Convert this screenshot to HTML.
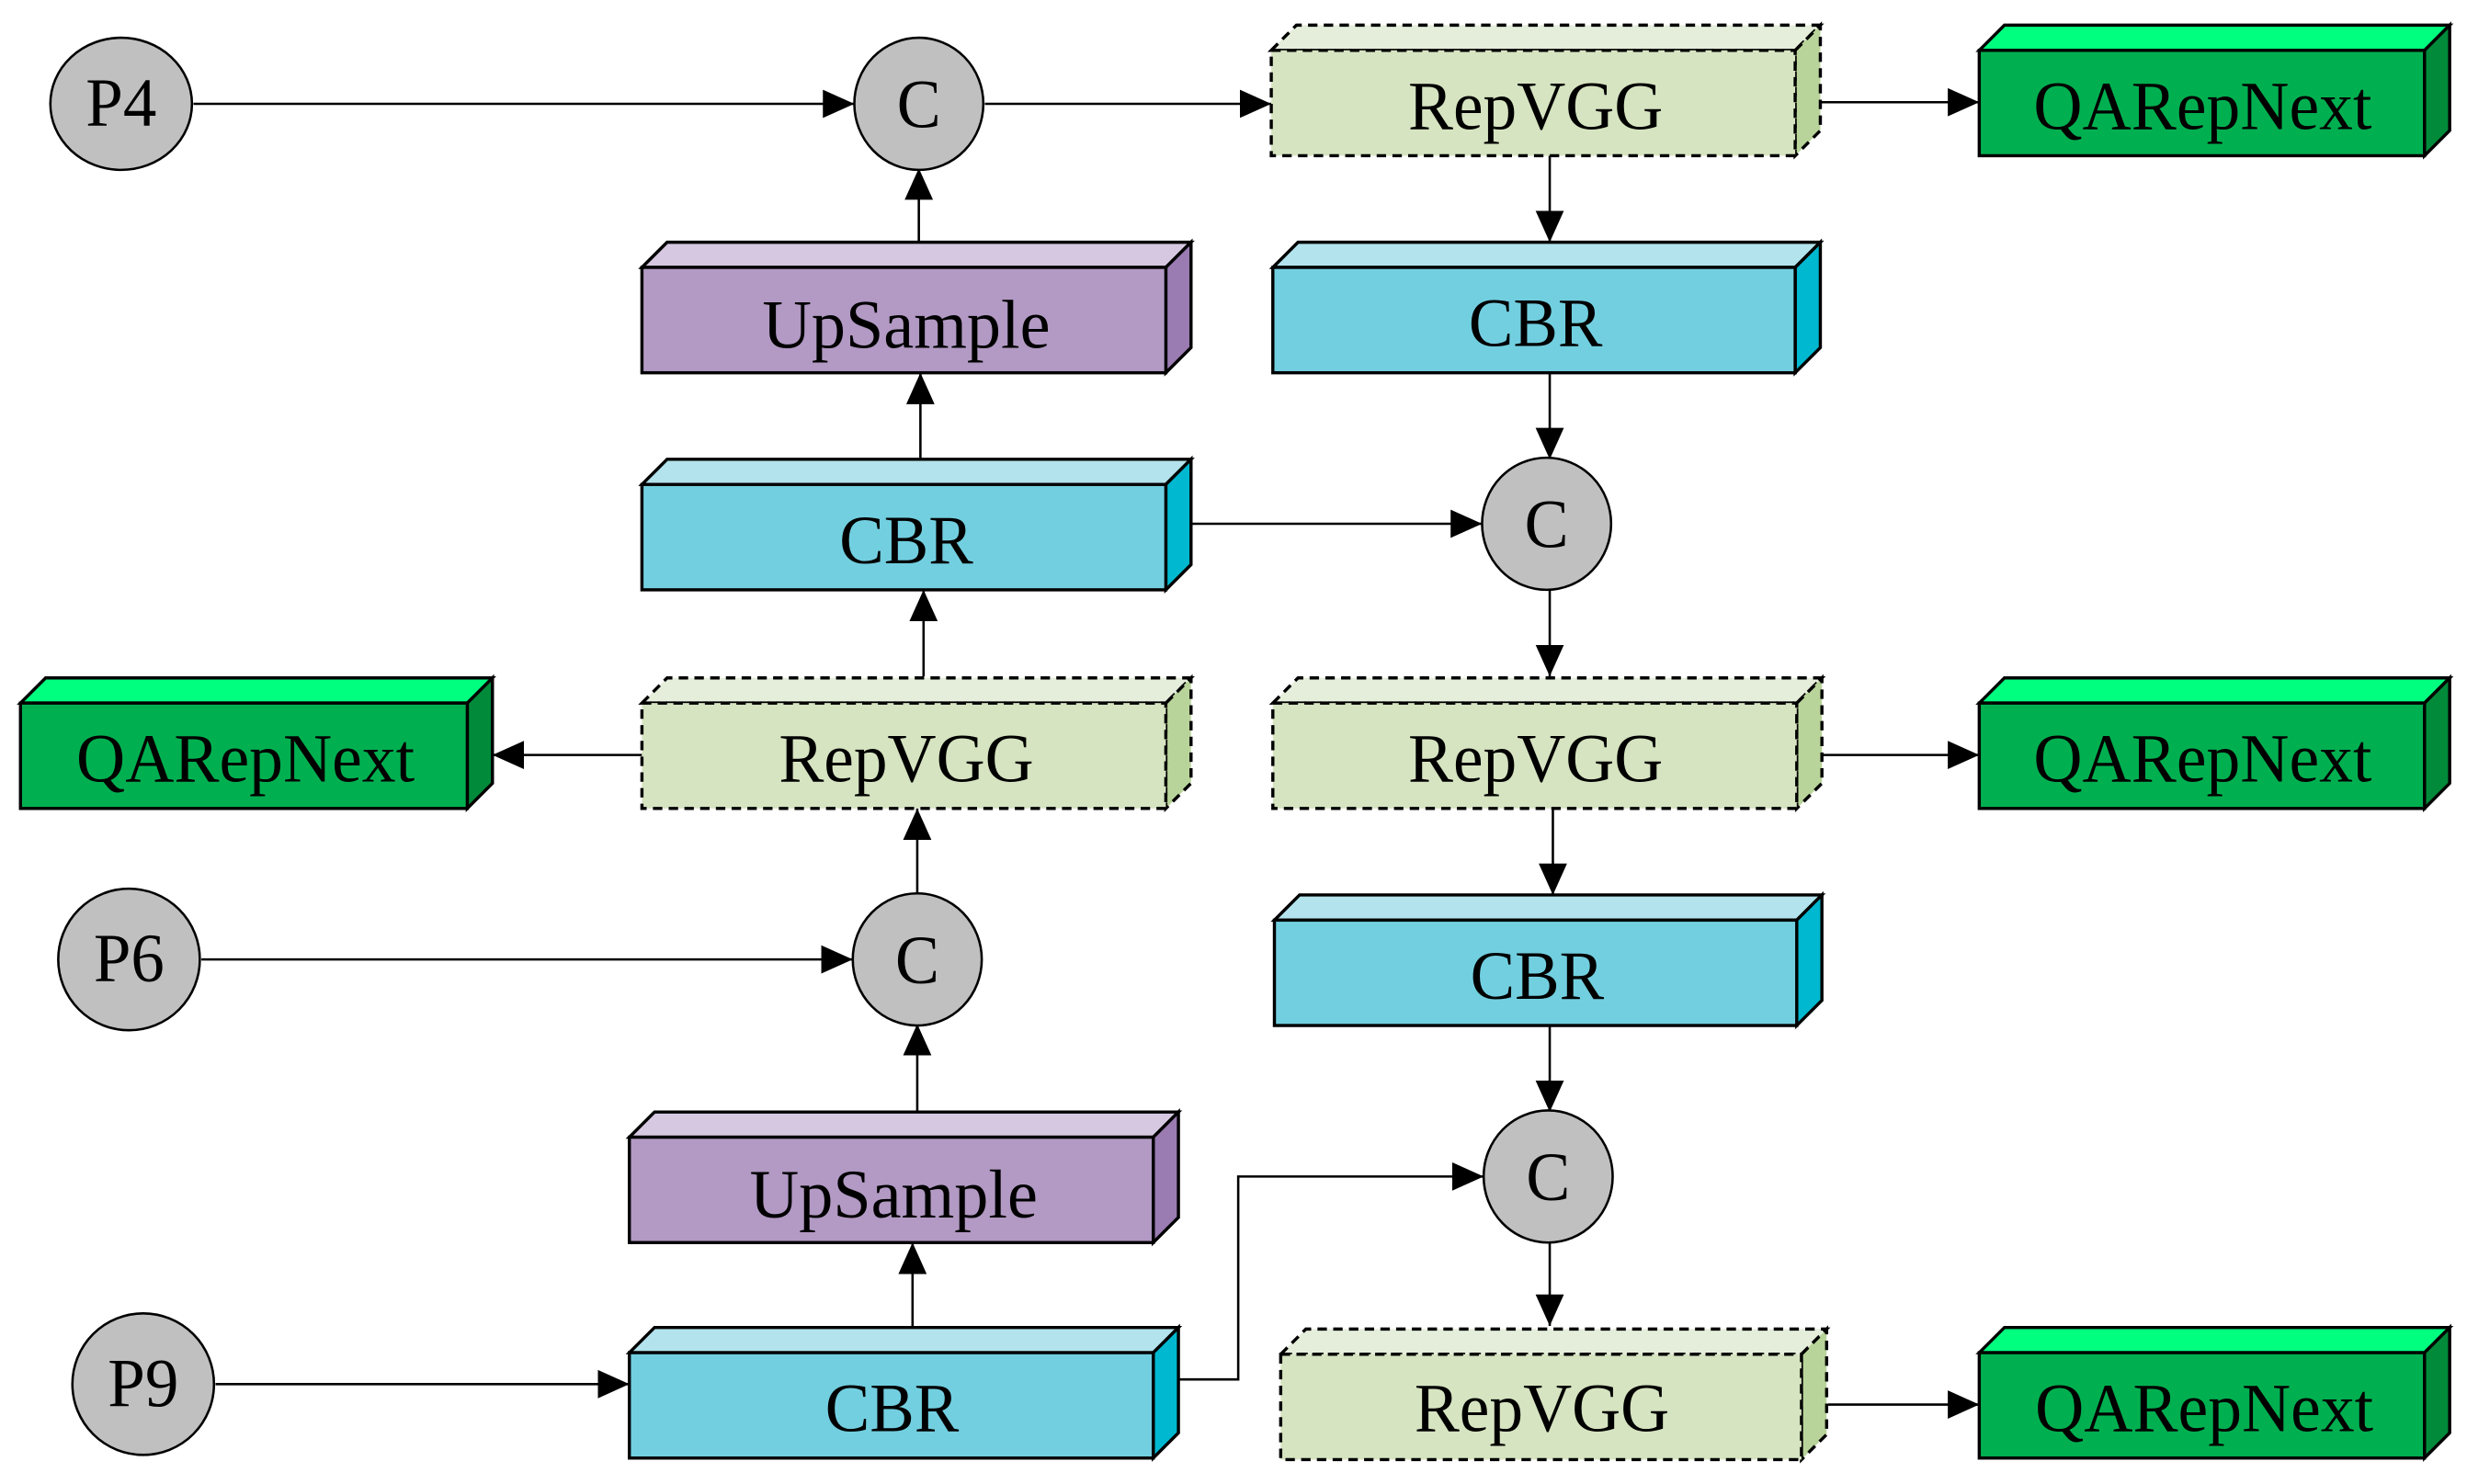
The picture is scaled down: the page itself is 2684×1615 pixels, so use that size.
<!DOCTYPE html>
<html><head><meta charset="utf-8"><style>html,body{margin:0;padding:0;background:#fff}svg{display:block}</style></head>
<body>
<svg width="2684" height="1615" viewBox="0 0 1568 943.5" xmlns="http://www.w3.org/2000/svg" font-family="Liberation Serif, serif">
<defs>
<marker id="a" markerUnits="userSpaceOnUse" markerWidth="22" markerHeight="20" refX="20" refY="10" orient="auto"><path d="M0,1 L20,10 L0,19 Z" fill="#000"/></marker>
</defs>
<g stroke="#000" stroke-width="1.5" fill="none" marker-end="url(#a)">
<line x1="123" y1="66" x2="543" y2="66"/>
<line x1="626" y1="66" x2="808" y2="66"/>
<line x1="1157" y1="65" x2="1258" y2="65"/>
<line x1="584" y1="154" x2="584" y2="107"/>
<line x1="585" y1="292" x2="585" y2="237"/>
<line x1="985" y1="99" x2="985" y2="154"/>
<line x1="985" y1="237" x2="985" y2="292"/>
<line x1="757" y1="333" x2="942" y2="333"/>
<line x1="587" y1="430" x2="587" y2="375"/>
<line x1="408" y1="480" x2="313" y2="480"/>
<line x1="985" y1="374" x2="985" y2="430"/>
<line x1="1158" y1="480" x2="1258" y2="480"/>
<line x1="583" y1="569" x2="583" y2="514"/>
<line x1="128" y1="610" x2="542" y2="610"/>
<line x1="583" y1="707" x2="583" y2="651"/>
<line x1="987" y1="514" x2="987" y2="569"/>
<line x1="985" y1="652" x2="985" y2="707"/>
<line x1="580" y1="843" x2="580" y2="790"/>
<line x1="137" y1="880" x2="400" y2="880"/>
<polyline points="749,877 787,877 787,748 943,748"/>
<line x1="985" y1="789" x2="985" y2="843"/>
<line x1="1162" y1="893" x2="1258" y2="893"/>
</g>
<g stroke="#000" stroke-width="1.5" fill="#c0c0c0">
<ellipse cx="77" cy="66" rx="45" ry="42"/>
<ellipse cx="584" cy="66" rx="41" ry="42"/>
<ellipse cx="983" cy="333" rx="41" ry="42"/>
<ellipse cx="82" cy="610" rx="45" ry="45"/>
<ellipse cx="583" cy="610" rx="41" ry="42"/>
<ellipse cx="984" cy="748" rx="41" ry="42"/>
<ellipse cx="91" cy="880" rx="45" ry="45"/>
</g>
<g font-size="44" text-anchor="middle" fill="#000">
<text x="77" y="80" textLength="45" lengthAdjust="spacingAndGlyphs">P4</text>
<text x="82" y="624" textLength="45" lengthAdjust="spacingAndGlyphs">P6</text>
<text x="91" y="894" textLength="45" lengthAdjust="spacingAndGlyphs">P9</text>
<text x="584" y="81" textLength="28" lengthAdjust="spacingAndGlyphs">C</text><text x="983" y="348" textLength="28" lengthAdjust="spacingAndGlyphs">C</text><text x="583" y="625" textLength="28" lengthAdjust="spacingAndGlyphs">C</text><text x="984" y="763" textLength="28" lengthAdjust="spacingAndGlyphs">C</text>
</g>
<g stroke="#000" stroke-width="2">
<g stroke-dasharray="6,4">
<g><polygon points="808,32 824,16 1157,16 1141,32" fill="#e5eedb"/><polygon points="1141,32 1157,16 1157,83 1141,99" fill="#b9d49a"/><rect x="808" y="32" width="333" height="67" fill="#d6e4c1"/></g>
<g><polygon points="408,447 424,431 757,431 741,447" fill="#e5eedb"/><polygon points="741,447 757,431 757,498 741,514" fill="#b9d49a"/><rect x="408" y="447" width="333" height="67" fill="#d6e4c1"/></g>
<g><polygon points="809,447 825,431 1158,431 1142,447" fill="#e5eedb"/><polygon points="1142,447 1158,431 1158,498 1142,514" fill="#b9d49a"/><rect x="809" y="447" width="333" height="67" fill="#d6e4c1"/></g>
<g><polygon points="814,861 830,845 1161,845 1145,861" fill="#e5eedb"/><polygon points="1145,861 1161,845 1161,912 1145,928" fill="#b9d49a"/><rect x="814" y="861" width="331" height="67" fill="#d6e4c1"/></g>
</g>
<g><polygon points="1258,32 1274,16 1557,16 1541,32" fill="#00ff7f"/><polygon points="1541,32 1557,16 1557,83 1541,99" fill="#008a3a"/><rect x="1258" y="32" width="283" height="67" fill="#00b050"/></g>
<g><polygon points="13,447 29,431 313,431 297,447" fill="#00ff7f"/><polygon points="297,447 313,431 313,498 297,514" fill="#008a3a"/><rect x="13" y="447" width="284" height="67" fill="#00b050"/></g>
<g><polygon points="1258,447 1274,431 1557,431 1541,447" fill="#00ff7f"/><polygon points="1541,447 1557,431 1557,498 1541,514" fill="#008a3a"/><rect x="1258" y="447" width="283" height="67" fill="#00b050"/></g>
<g><polygon points="1258,860 1274,844 1557,844 1541,860" fill="#00ff7f"/><polygon points="1541,860 1557,844 1557,911 1541,927" fill="#008a3a"/><rect x="1258" y="860" width="283" height="67" fill="#00b050"/></g>
<g><polygon points="408,170 424,154 757,154 741,170" fill="#d7c8e1"/><polygon points="741,170 757,154 757,221 741,237" fill="#9a7bb2"/><rect x="408" y="170" width="333" height="67" fill="#b29ac4"/></g>
<g><polygon points="400,723 416,707 749,707 733,723" fill="#d7c8e1"/><polygon points="733,723 749,707 749,774 733,790" fill="#9a7bb2"/><rect x="400" y="723" width="333" height="67" fill="#b29ac4"/></g>
<g><polygon points="809,170 825,154 1157,154 1141,170" fill="#b3e3ec"/><polygon points="1141,170 1157,154 1157,221 1141,237" fill="#00b8cf"/><rect x="809" y="170" width="332" height="67" fill="#72cfe0"/></g>
<g><polygon points="408,308 424,292 757,292 741,308" fill="#b3e3ec"/><polygon points="741,308 757,292 757,359 741,375" fill="#00b8cf"/><rect x="408" y="308" width="333" height="67" fill="#72cfe0"/></g>
<g><polygon points="810,585 826,569 1158,569 1142,585" fill="#b3e3ec"/><polygon points="1142,585 1158,569 1158,636 1142,652" fill="#00b8cf"/><rect x="810" y="585" width="332" height="67" fill="#72cfe0"/></g>
<g><polygon points="400,860 416,844 749,844 733,860" fill="#b3e3ec"/><polygon points="733,860 749,844 749,911 733,927" fill="#00b8cf"/><rect x="400" y="860" width="333" height="67" fill="#72cfe0"/></g>
</g>
<g font-size="44" text-anchor="middle" fill="#000">
<text x="976" y="82" textLength="162" lengthAdjust="spacingAndGlyphs">RepVGG</text>
<text x="1400" y="82" textLength="215" lengthAdjust="spacingAndGlyphs">QARepNext</text>
<text x="576" y="221" textLength="183" lengthAdjust="spacingAndGlyphs">UpSample</text>
<text x="976" y="220" textLength="85" lengthAdjust="spacingAndGlyphs">CBR</text>
<text x="576" y="358" textLength="85" lengthAdjust="spacingAndGlyphs">CBR</text>
<text x="156" y="497" textLength="215" lengthAdjust="spacingAndGlyphs">QARepNext</text>
<text x="576" y="497" textLength="162" lengthAdjust="spacingAndGlyphs">RepVGG</text>
<text x="976" y="497" textLength="162" lengthAdjust="spacingAndGlyphs">RepVGG</text>
<text x="1400" y="497" textLength="215" lengthAdjust="spacingAndGlyphs">QARepNext</text>
<text x="977" y="635" textLength="85" lengthAdjust="spacingAndGlyphs">CBR</text>
<text x="568" y="774" textLength="183" lengthAdjust="spacingAndGlyphs">UpSample</text>
<text x="567" y="910" textLength="85" lengthAdjust="spacingAndGlyphs">CBR</text>
<text x="980" y="910" textLength="162" lengthAdjust="spacingAndGlyphs">RepVGG</text>
<text x="1401" y="910" textLength="215" lengthAdjust="spacingAndGlyphs">QARepNext</text>
</g>
</svg>
</body></html>
